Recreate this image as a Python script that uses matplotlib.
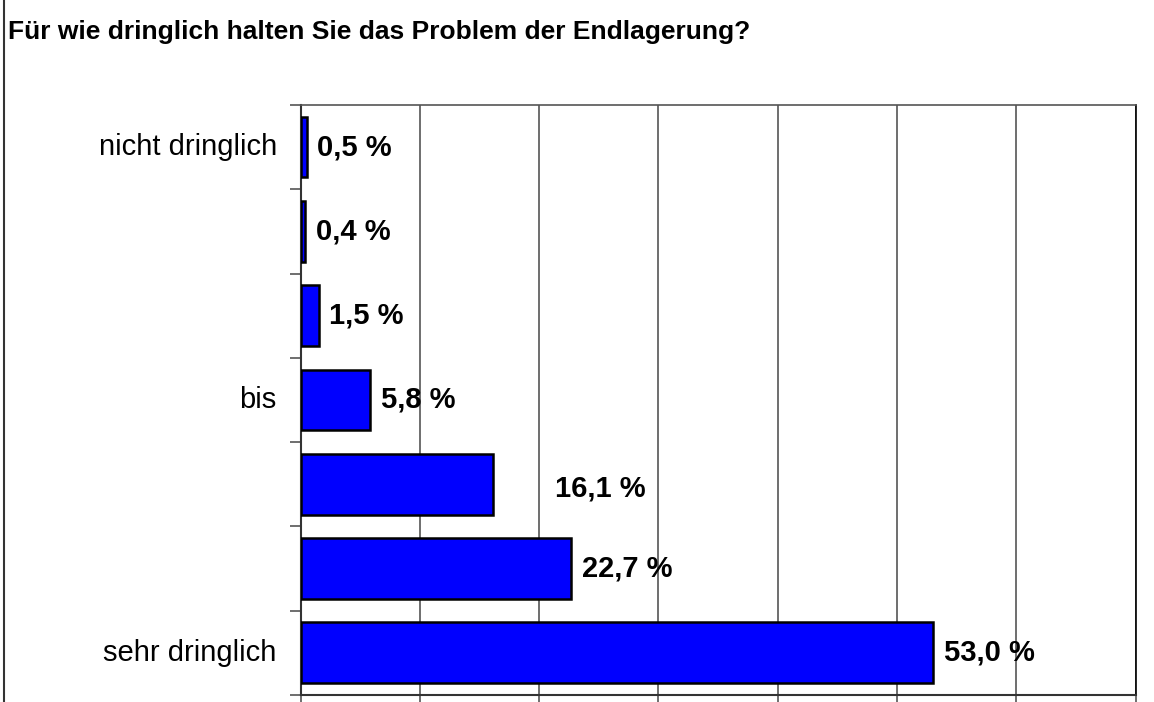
import matplotlib.pyplot as plt
from matplotlib.lines import Line2D
import numpy as np

plt.rcParams['font.family'] = ['Liberation Sans', 'DejaVu Sans']

# top to bottom
labels = ["nicht dringlich", "", "", "bis", "", "", "sehr dringlich"]
values = [0.5, 0.4, 1.5, 5.8, 16.1, 22.7, 53.0]
value_text = ["0,5 %", "0,4 %", "1,5 %", "5,8 %", "16,1 %", "22,7 %", "53,0 %"]

fig = plt.figure(figsize=(11.54, 7.02), dpi=100)
ax = fig.add_axes([0.2605, 0.01, 0.7235, 0.8405])

y = np.arange(len(values))
ax.barh(y, values, height=0.72, color="#0000ff", edgecolor="black", linewidth=1.8, zorder=3)
ax.set_ylim(len(values) - 0.5, -0.5)
ax.set_xlim(0, 70)

ax.set_xticks(np.arange(0, 71, 10))
ax.set_xticklabels([])
ax.xaxis.grid(True, color="#555555", linewidth=1.2, zorder=0)
ax.tick_params(axis="x", length=8, width=1.2, color="#555555")

# category ticks sit between the bars
ax.set_yticks(np.arange(-0.5, len(values), 1.0))
ax.set_yticklabels([])
ax.tick_params(axis="y", length=8, width=1.2, color="#555555")
for i, lab in enumerate(labels):
    ax.text(-2.0, i, lab, ha="right", va="center", fontsize=21)

for sp in ["left", "bottom"]:
    ax.spines[sp].set_color("#333333")
    ax.spines[sp].set_linewidth(1.5)
ax.spines["top"].set_color("#555555")
ax.spines["top"].set_linewidth(1.2)
ax.spines["right"].set_color("black")
ax.spines["right"].set_linewidth(1.2)

for i, (v, t) in enumerate(zip(values, value_text)):
    if t == "16,1 %":
        ax.text(21.3, i + 0.05, t, ha="left", va="center", fontsize=21, fontweight="bold")
    else:
        ax.text(v + 0.9, i, t, ha="left", va="center", fontsize=21, fontweight="bold")

fig.text(0.007, 0.954, "Für wie dringlich halten Sie das Problem der Endlagerung?",
         fontsize=19, fontweight="bold", ha="left", va="center")
fig.add_artist(Line2D([0.0035, 0.0035], [0, 1], transform=fig.transFigure, color="#333333", linewidth=1.5))

fig.savefig("out.png", dpi=100)
